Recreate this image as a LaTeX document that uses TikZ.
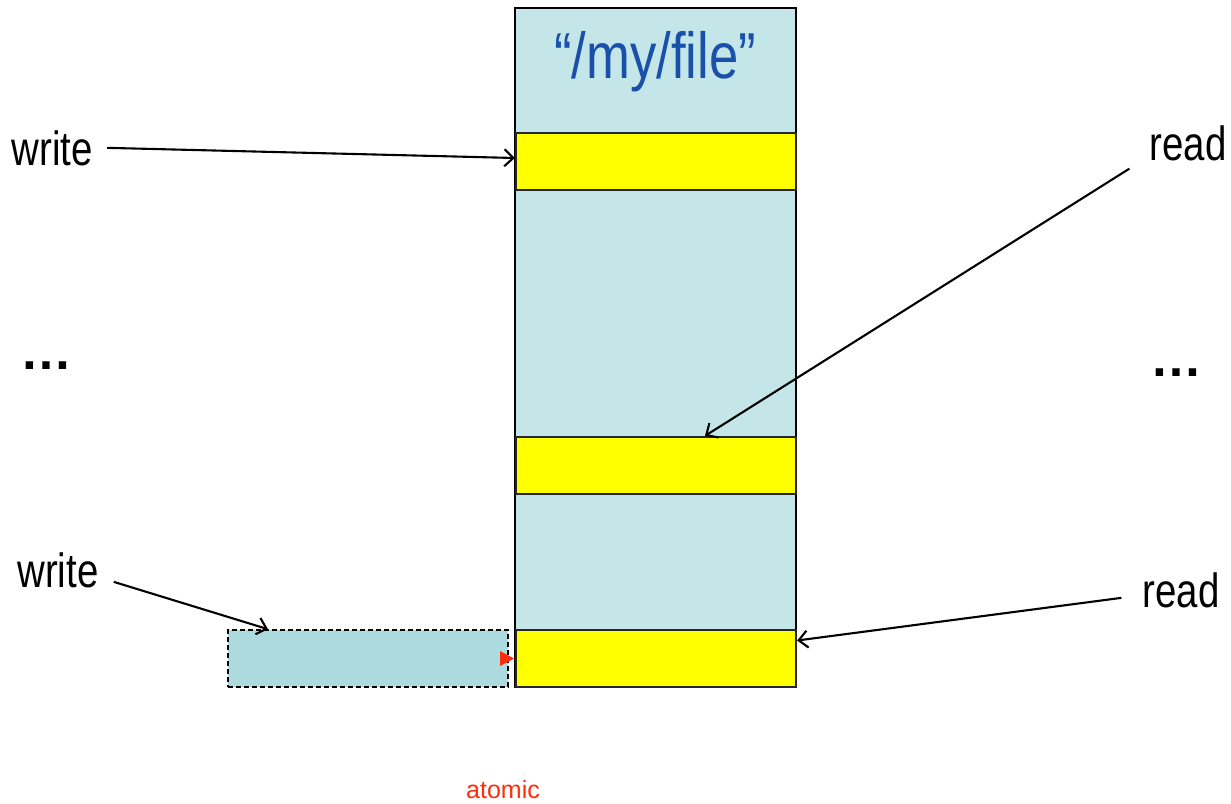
\documentclass[tikz,border=0pt]{standalone}
\usepackage{fontspec}
\setmainfont{Liberation Sans}
\usetikzlibrary{arrows.meta,calc}
\definecolor{filebg}{RGB}{197,230,233}
\definecolor{pendbg}{RGB}{172,218,223}
\definecolor{titleblue}{RGB}{25,80,170}
\definecolor{atomred}{RGB}{255,45,10}
\definecolor{barfill}{RGB}{255,255,0}
\tikzset{
  lbl/.style={inner sep=0pt, anchor=base, font=\fontsize{48}{52}\selectfont},
  dots/.style={inner sep=0pt, anchor=base, font=\fontsize{52}{56}\selectfont\bfseries},
  bar/.style={draw=black!85, line width=2.2pt, fill=barfill, minimum width=280pt, minimum height=57pt, inner sep=0pt},
  arr/.style={draw=black, line width=2.1pt, -{Straight Barb[length=9pt,width=17pt,line width=2.1pt]}},
}
\begin{document}
\begin{tikzpicture}[x=1pt,y=-1pt]
\useasboundingbox (0,0) rectangle (1231,803);
% main file column
\node[draw=black, line width=1.8pt, fill=filebg, minimum width=281pt, minimum height=679pt, inner sep=0pt] (file) at (655.5,347.5) {};
\node[inner sep=0pt, anchor=base, text=titleblue, font=\fontsize{65}{70}\selectfont] (title) at (655,78) {\scalebox{0.81}[1]{“/my/file”}};
% blocks
\node[bar] (b1) at (656,161.5) {};
\node[bar] (b2) at (656,465.5) {};
\node[bar] (b3) at (656,658.5) {};
% pending write block
\node[draw=black, line width=1.6pt, dash pattern=on 5pt off 3pt, fill=pendbg, minimum width=280pt, minimum height=57pt, inner sep=0pt] (pend) at (368,658.5) {};
\fill[atomred] (500,651) -- (514,658.5) -- (500,666) -- cycle;
% labels
\node[lbl] (w1) at (52.5,165) {\scalebox{0.8}[1]{write}};
\node[lbl] (w2) at (58,587) {\scalebox{0.8}[1]{write}};
\node[lbl] (r1) at (1188,160) {\scalebox{0.8}[1]{read}};
\node[lbl] (r2) at (1181,607) {\scalebox{0.8}[1]{read}};
\node[dots] (d1) at (46,369) {…};
\node[dots] (d2) at (1176,376) {…};
\node[inner sep=0pt, anchor=base, text=atomred, font=\fontsize{25}{28}\selectfont] (atomic) at (503,798) {atomic};
% start points
\coordinate (s1) at ($(w1.east)+(14,0)$);
\coordinate (s2) at ($(r1.south west)+(-20,8)$);
\coordinate (s3) at ($(w2.east)+(15,12)$);
\coordinate (s4) at ($(r2.west)+(-21,8)$);
% connectors
\draw[arr] (s1) -- ([yshift=3.5pt]b1.west);
\draw[arr] (s2) -- ([xshift=49pt]b2.north);
\draw[arr] (s3) -- ([xshift=-100pt]pend.north);
\draw[arr] (s4) -- ([yshift=18pt]b3.east);
\end{tikzpicture}
\end{document}
